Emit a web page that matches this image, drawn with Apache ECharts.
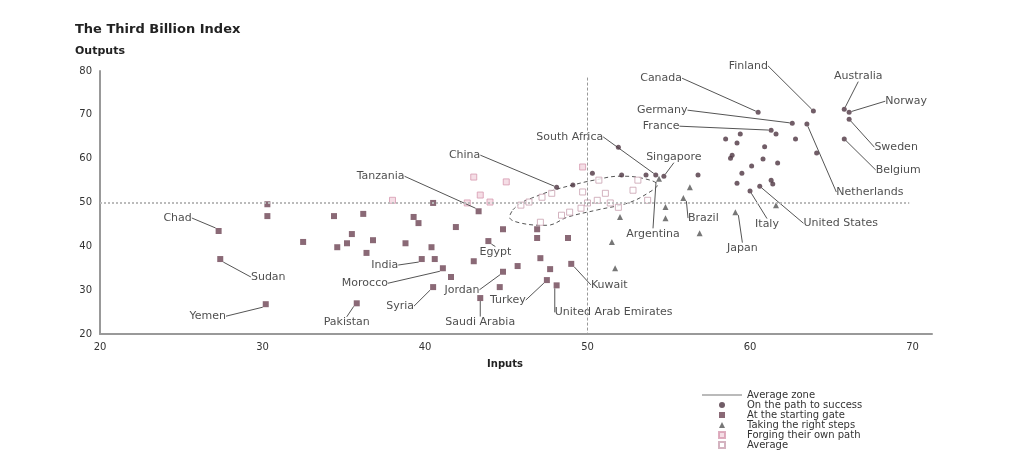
<!DOCTYPE html>
<html>
<head>
<meta charset="utf-8">
<title>The Third Billion Index</title>
<script src="https://cdn.jsdelivr.net/npm/echarts@6/dist/echarts.min.js"></script>
<style>
  html, body { margin: 0; padding: 0; background: #fff; }
  #chart { width: 1016px; height: 474px; }
</style>
</head>
<body>
<div id="chart"></div>
<script>
// [inputs, outputs, country label]
var successPoints = [
  [63.9, 70.9, 'Finland'], [65.8, 71.3, 'Australia'], [66.1, 70.6, 'Norway'],
  [66.1, 69.0, 'Sweden'], [65.8, 64.5, 'Belgium'], [60.5, 70.6, 'Canada'],
  [62.6, 68.1, 'Germany'], [63.5, 67.9, 'Netherlands'], [61.3, 66.5, 'France'],
  [61.6, 65.6, ''], [62.8, 64.5, ''], [64.1, 61.3, ''], [59.4, 65.6, ''],
  [58.5, 64.5, ''], [59.2, 63.6, ''], [60.9, 62.7, ''], [58.9, 60.8, ''],
  [58.8, 60.1, ''], [60.8, 59.9, ''], [61.7, 59.0, ''], [60.1, 58.3, ''],
  [59.5, 56.7, ''], [59.2, 54.4, ''], [61.3, 55.1, ''], [61.4, 54.2, ''],
  [60.6, 53.7, 'United States'], [60.0, 52.6, 'Italy'], [51.9, 62.6, ''],
  [54.7, 56.0, 'Singapore'], [54.2, 56.3, 'South Africa'], [52.1, 56.3, ''],
  [56.8, 56.3, ''], [50.3, 56.7, ''], [49.1, 54.0, ''], [48.1, 53.5, 'China'],
  [53.6, 56.3, '']
];
var startingPoints = [
  [27.3, 43.5, 'Chad'], [27.4, 37.1, 'Sudan'], [30.2, 26.8, 'Yemen'],
  [30.3, 49.6, ''], [30.3, 46.9, ''], [32.5, 41.0, ''], [34.4, 46.9, ''],
  [36.2, 47.4, ''], [35.5, 42.8, ''], [35.2, 40.7, ''], [34.6, 39.8, ''],
  [36.4, 38.5, ''], [36.8, 41.4, ''], [35.8, 27.0, 'Pakistan'],
  [38.8, 40.7, ''], [39.3, 46.7, ''], [39.6, 45.3, ''], [39.8, 37.1, 'India'],
  [40.5, 49.9, ''], [43.3, 48.0, 'Tanzania'], [41.9, 44.4, ''], [44.8, 43.9, ''],
  [46.9, 43.9, ''], [46.9, 41.9, ''], [48.8, 41.9, ''], [43.9, 41.2, 'Egypt'],
  [40.4, 39.8, ''], [40.6, 37.1, ''], [41.1, 35.0, 'Morocco'], [41.6, 33.0, ''],
  [43.0, 36.6, ''], [45.7, 35.5, ''], [47.1, 37.3, ''], [49.0, 36.0, 'Kuwait'],
  [47.7, 34.8, ''], [47.5, 32.3, 'Turkey'], [48.1, 31.1, 'United Arab Emirates'],
  [44.8, 34.2, 'Jordan'], [44.6, 30.7, ''], [40.5, 30.7, 'Syria'],
  [43.4, 28.2, 'Saudi Arabia']
];
var stepsPoints = [
  [54.4, 55.4, 'Argentina'], [54.8, 49.0, ''], [54.8, 46.4, ''], [51.5, 41.0, ''],
  [51.7, 35.0, ''], [52.0, 46.7, ''], [56.9, 43.0, ''], [55.9, 51.0, 'Brazil'],
  [56.3, 53.5, ''], [59.1, 47.8, 'Japan'], [61.6, 49.4, '']
];
var forgingPoints = [
  [43.0, 55.8], [45.0, 54.7], [43.4, 51.7], [44.0, 50.1], [42.6, 49.9],
  [49.7, 58.1], [38.0, 50.5]
];
var averagePoints = [
  [45.9, 49.4], [46.4, 50.1], [47.2, 51.2], [47.8, 52.1], [49.7, 52.4],
  [50.6, 50.5], [51.1, 52.1], [51.4, 49.9], [51.9, 48.9], [52.8, 52.8],
  [53.1, 55.1], [50.0, 49.9], [49.6, 48.7], [48.9, 47.8], [48.4, 47.1],
  [47.1, 45.5], [53.7, 50.5], [50.7, 55.1]
];
// outline of the average zone
var averageZone = [
  [45.4, 48.3], [45.9, 49.9], [46.7, 51.2], [47.9, 52.8], [49.1, 54.0],
  [50.4, 55.1], [52.0, 56.0], [53.3, 55.6], [54.3, 54.0], [53.7, 52.1],
  [52.5, 49.9], [50.6, 48.3], [48.8, 46.7], [47.5, 44.8], [45.9, 45.3],
  [45.2, 46.7], [45.4, 48.3]
];
var averageLine = 50;

// where each country label sits, in pixels from its marker
var labelOffsets = {
  'Chad': [-41, -13], 'Sudan': [48, 18], 'Yemen': [-58, 12], 'Pakistan': [-10, 19],
  'Tanzania': [-98, -35], 'China': [-92, -32], 'South Africa': [-86, -38],
  'Singapore': [10, -19], 'Argentina': [-6, 55], 'India': [-37, 6],
  'Morocco': [-78, 15], 'Syria': [-33, 19], 'Jordan': [-41, 18],
  'Saudi Arabia': [0, 24], 'Turkey': [-39, 20], 'United Arab Emirates': [57, 27],
  'Kuwait': [38, 21], 'Egypt': [7, 11], 'Brazil': [20, 20], 'Japan': [7, 36],
  'Italy': [17, 33], 'United States': [81, 37], 'Canada': [-97, -34],
  'Finland': [-65, -45], 'Australia': [14, -33], 'Norway': [57, -11],
  'Germany': [-130, -13], 'France': [-110, -4], 'Sweden': [47, 28],
  'Belgium': [54, 31], 'Netherlands': [63, 68]
};

var font = 'DejaVu Sans, Verdana, sans-serif';
var squareIcon = 'path://M0,0h10v10h-10z';
var triangleIcon = 'path://M5,0L10,10L0,10z';

function toItems(points) {
  return points.map(function (p) {
    var name = p[2] || '';
    return { value: [p[0], p[1]], name: name, label: { show: name !== '' } };
  });
}

function placeLabel(params) {
  var off = labelOffsets[params.text] || [0, 0];
  return { dx: off[0], dy: off[1] };
}

var countryLabel = {
  position: 'inside',
  formatter: '{b}',
  color: '#222',
  textBorderWidth: 0,
  fontSize: 11,
  fontFamily: font
};
var leader = { show: true, smooth: false, lineStyle: { color: '#555', width: 1 } };

var chart = echarts.init(document.getElementById('chart'));
chart.setOption({
  backgroundColor: '#fff',
  animation: false,
  title: [
    { text: 'The Third Billion Index', left: 75, top: 23, padding: 0,
      textStyle: { fontSize: 13, fontWeight: 'bold', color: '#222', fontFamily: font } },
    { text: 'Outputs', left: 75, top: 46, padding: 0,
      textStyle: { fontSize: 11, fontWeight: 'bold', color: '#222', fontFamily: font } }
  ],
  grid: { left: 100, right: 84, top: 71, bottom: 140 },
  legend: {
    orient: 'vertical',
    left: 697,
    top: 385,
    itemWidth: 40,
    itemHeight: 6,
    itemGap: 0,
    symbolKeepAspect: true,
    textStyle: { fontSize: 10, lineHeight: 10, color: '#333', fontFamily: font },
    data: [
      { name: 'Average zone', icon: 'path://M0,0h40v1h-40z', itemStyle: { color: '#777' } },
      { name: 'On the path to success', icon: 'circle' },
      { name: 'At the starting gate', icon: squareIcon },
      { name: 'Taking the right steps', icon: triangleIcon },
      { name: 'Forging their own path', icon: squareIcon },
      { name: 'Average', icon: squareIcon }
    ]
  },
  xAxis: {
    type: 'value', min: 20, max: 71.2, interval: 10,
    name: 'Inputs', nameLocation: 'middle', nameGap: 25,
    nameTextStyle: { fontSize: 10, fontWeight: 'bold', color: '#222', fontFamily: font, padding: [0, 22, 0, 0] },
    axisLine: { lineStyle: { color: '#999', width: 2 } },
    axisTick: { show: false },
    splitLine: { show: false },
    axisLabel: {
      fontSize: 10, color: '#333', fontFamily: font, margin: 8,
      formatter: function (v) { return v % 10 === 0 ? v : ''; }
    }
  },
  yAxis: {
    type: 'value', min: 20, max: 80, interval: 10,
    axisLine: { show: true, lineStyle: { color: '#999', width: 2 } },
    axisTick: { show: false },
    splitLine: { show: false },
    axisLabel: { fontSize: 10, color: '#333', fontFamily: font, margin: 8 }
  },
  series: [
    {
      name: 'Average zone',
      type: 'line',
      smooth: 0.4,
      symbol: 'none',
      silent: true,
      data: averageZone,
      itemStyle: { color: '#777' },
      lineStyle: { color: '#555', width: 1, type: [4, 3] },
      markLine: {
        silent: true,
        symbol: 'none',
        label: { show: false },
        data: [
          [{ coord: [20, averageLine], lineStyle: { color: '#bbb', width: 2, type: [2, 2] } },
           { coord: [69.8, averageLine] }],
          [{ coord: [averageLine, 78.5], lineStyle: { color: '#999', width: 1, type: [3, 2] } },
           { coord: [averageLine, 20] }]
        ]
      },
      z: 1
    },
    {
      name: 'On the path to success',
      type: 'scatter',
      symbol: 'circle',
      symbolSize: 5,
      itemStyle: { color: '#4d3441' },
      data: toItems(successPoints),
      label: countryLabel,
      labelLine: leader,
      labelLayout: placeLabel,
      z: 4
    },
    {
      name: 'At the starting gate',
      type: 'scatter',
      symbol: 'rect',
      symbolSize: 6,
      itemStyle: { color: '#6d4354' },
      data: toItems(startingPoints),
      label: countryLabel,
      labelLine: leader,
      labelLayout: placeLabel,
      z: 4
    },
    {
      name: 'Taking the right steps',
      type: 'scatter',
      symbol: 'triangle',
      symbolSize: 6,
      itemStyle: { color: '#555' },
      data: toItems(stepsPoints),
      label: countryLabel,
      labelLine: leader,
      labelLayout: placeLabel,
      z: 4
    },
    {
      name: 'Forging their own path',
      type: 'scatter',
      symbol: 'rect',
      symbolSize: 6,
      itemStyle: { color: '#f3d6e0', borderColor: '#d79ab0', borderWidth: 1 },
      data: forgingPoints,
      z: 3
    },
    {
      name: 'Average',
      type: 'scatter',
      symbol: 'rect',
      symbolSize: 6,
      itemStyle: { color: '#fff', borderColor: '#c9a0b0', borderWidth: 1 },
      data: averagePoints,
      z: 2
    }
  ]
});
</script>
</body>
</html>
